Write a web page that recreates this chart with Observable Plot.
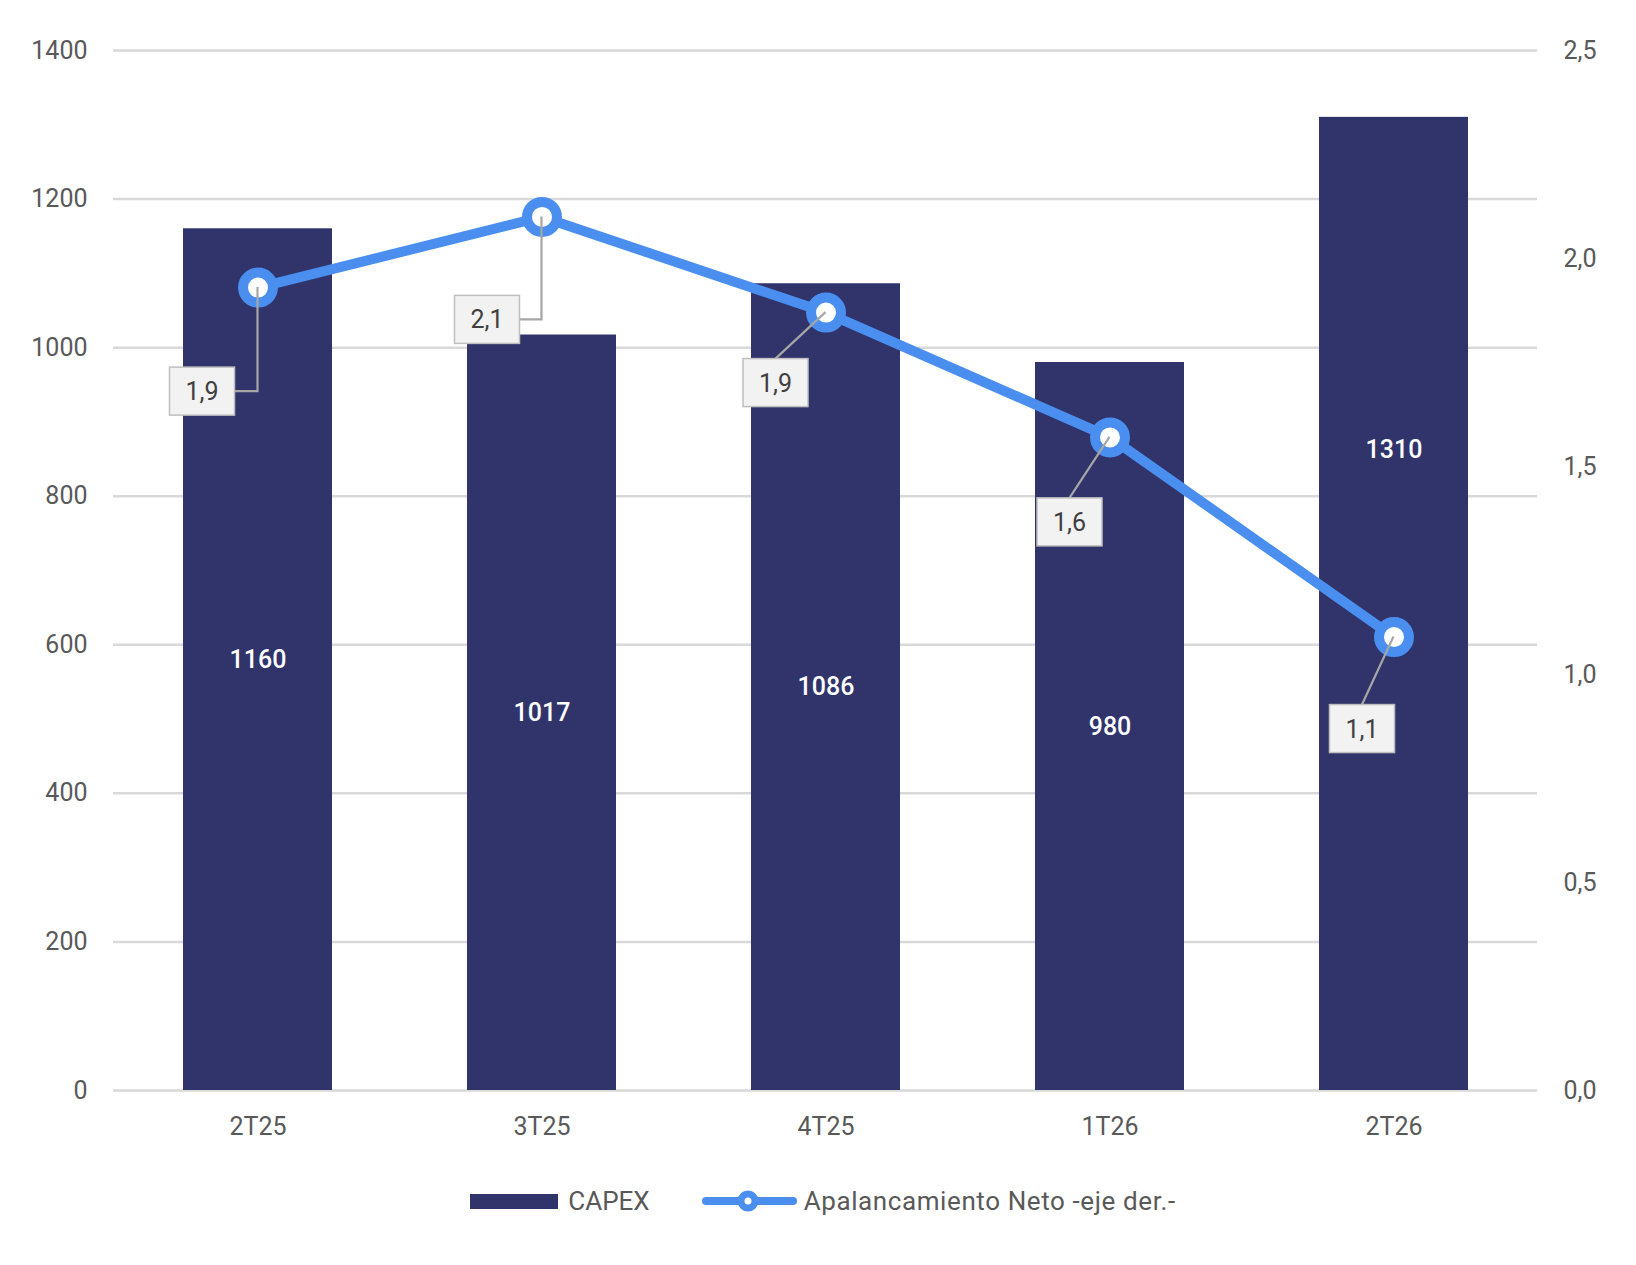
<!DOCTYPE html>
<html>
<head>
<meta charset="utf-8">
<script src="https://cdn.jsdelivr.net/npm/d3@7"></script>
<script src="https://cdn.jsdelivr.net/npm/@observablehq/plot@0.6"></script>
<style>
  html, body { margin: 0; padding: 0; background: #fff; }
  body { width: 1636px; font-family: Roboto, "Noto Sans", sans-serif; }
  #legend { display: flex; justify-content: center; align-items: center; margin-top: 26px; padding-left: 10px; height: 30px; font-size: 26px; color: #595959; }
</style>
</head>
<body>
<div id="chart"></div>
<div id="legend"></div>
<script>
// ---- data ----
const quarters = ["2T25", "3T25", "4T25", "1T26", "2T26"];
const capex = [1160, 1017, 1086, 980, 1310];
const leverage = [1.93, 2.10, 1.87, 1.57, 1.09];
const leftTicks = [0, 200, 400, 600, 800, 1000, 1200, 1400];
const rightTicks = [0, 0.5, 1.0, 1.5, 2.0, 2.5];
const seriesNames = ["CAPEX", "Apalancamiento Neto -eje der.-"];

// ---- layout / style ----
const BAR = "#30346B";
const LINE = "#4A8FEF";
const K = 1400 / 2.5; // right axis -> left axis units
const barLabelY = { "2T26": 862 };
const callouts = [
  { dx: -55.5, dy: 104, elbow: true },
  { dx: -54.5, dy: 103, elbow: true },
  { dx: -50, dy: 70.5 },
  { dx: -40, dy: 85 },
  { dx: -31.5, dy: 92 }
];
const BW = 65, BH = 48;
const fmt = v => v.toFixed(1).replace(".", ",");

const rows = quarters.map((q, i) => ({ q, capex: capex[i], lev: leverage[i] }));

const calloutMark = Plot.dot(rows, {
  x: "q", y: d => d.lev * K, r: 0,
  render(index, scales) {
    const sx = scales.x, sy = scales.y;
    let bw = 0;
    if (typeof sx.bandwidth === "function") bw = sx.bandwidth();
    else if (typeof sx.bandwidth === "number") bw = sx.bandwidth;
    else if (scales.scales && scales.scales.x && scales.scales.x.bandwidth) bw = scales.scales.x.bandwidth;
    const g = d3.create("svg:g");
    for (const i of index) {
      const d = rows[i];
      const c = callouts[i];
      const px = sx(d.q) + bw / 2, py = sy(d.lev * K);
      const bx = px + c.dx, by = py + c.dy;
      const path = c.elbow
        ? `M${px},${py}V${by}H${bx + BW / 2}`
        : `M${px},${py}L${bx},${by - BH / 2}`;
      g.append("path").attr("d", path).attr("fill", "none")
        .attr("stroke", "#a6a6a6").attr("stroke-width", 2.2);
      g.append("rect").attr("x", bx - BW / 2).attr("y", by - BH / 2)
        .attr("width", BW).attr("height", BH)
        .attr("fill", "#f2f2f2").attr("stroke", "#bfbfbf").attr("stroke-width", 1.5);
      g.append("text").attr("x", bx).attr("y", by).attr("dy", "0.36em")
        .attr("text-anchor", "middle").attr("fill", "#404040")
        .attr("font-size", 25).text(fmt(d.lev));
    }
    return g.node();
  }
});

const chart = Plot.plot({
  width: 1636,
  height: 1160,
  marginLeft: 113,
  marginRight: 99,
  marginTop: 50,
  marginBottom: 70,
  style: { fontFamily: "Roboto, 'Noto Sans', sans-serif", fontSize: "25px", color: "#595959", background: "#fff" },
  x: { domain: quarters, paddingInner: 0.476, paddingOuter: 0.238, label: null },
  y: { domain: [0, 1400], label: null },
  marks: [
    Plot.gridY(leftTicks, { stroke: "#d9d9d9", strokeOpacity: 1, strokeWidth: 2.5 }),
    Plot.axisY({ ticks: leftTicks, tickFormat: d => String(d), tickSize: 0, tickPadding: 26, label: null, fill: "#595959" }),
    Plot.axisY({ anchor: "right", ticks: rightTicks.map(v => v * K), tickFormat: v => fmt(v / K), tickSize: 0, tickPadding: 26, label: null, fill: "#595959" }),
    Plot.axisX({ tickSize: 0, tickPadding: 27, label: null, fill: "#595959" }),
    Plot.barY(rows, { x: "q", y: "capex", fill: BAR }),
    Plot.text(rows, { x: "q", y: d => barLabelY[d.q] ?? d.capex / 2, text: d => String(d.capex), fill: "white", fontSize: 25, fontWeight: 500 }),
    Plot.line(rows, { x: "q", y: d => d.lev * K, stroke: LINE, strokeWidth: 10 }),
    Plot.dot(rows, { x: "q", y: d => d.lev * K, r: 15, fill: "white", stroke: LINE, strokeWidth: 10 }),
    calloutMark
  ]
});
document.getElementById("chart").appendChild(chart);

// ---- legend ----
const legend = d3.select("#legend");
legend.append("span").style("display", "inline-block").style("width", "88px").style("height", "15px").style("background", BAR);
legend.append("span").style("margin-left", "10px").text(seriesNames[0]);
const ls = legend.append("svg").attr("width", 95).attr("height", 30).style("margin-left", "52px");
ls.append("line").attr("x1", 4).attr("x2", 91).attr("y1", 15).attr("y2", 15)
  .attr("stroke", LINE).attr("stroke-width", 8).attr("stroke-linecap", "round");
ls.append("circle").attr("cx", 46).attr("cy", 15).attr("r", 7).attr("fill", "white").attr("stroke", LINE).attr("stroke-width", 7);
legend.append("span").style("margin-left", "7px").style("letter-spacing", "0.6px").text(seriesNames[1]);
</script>
</body>
</html>
